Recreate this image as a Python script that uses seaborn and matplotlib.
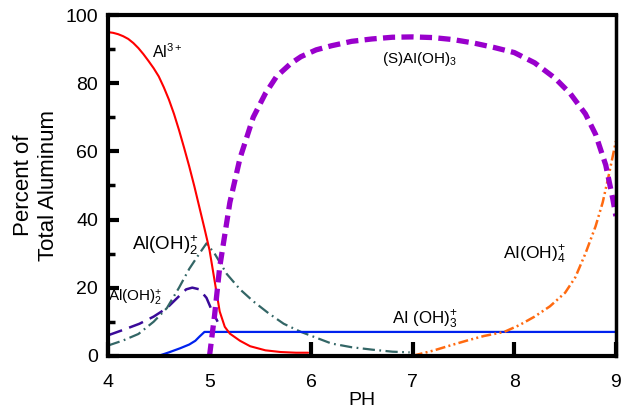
import pandas as pd
import seaborn as sns
from matplotlib import pyplot as plt
from matplotlib.ticker import MultipleLocator

sns.set_style(style='white')
plt.rcParams['font.family'] = ['Liberation Sans', 'DejaVu Sans']
plt.rcParams['mathtext.fontset'] = 'custom'
plt.rcParams['mathtext.rm'] = 'Liberation Sans'
plt.rcParams['mathtext.it'] = 'Liberation Sans'
plt.rcParams['text.color'] = 'black'
plt.rcParams['axes.labelcolor'] = 'black'
plt.rcParams['xtick.color'] = 'black'
plt.rcParams['ytick.color'] = 'black'

# Al3+
al3_ph = [4.0, 4.05, 4.1, 4.15, 4.2, 4.25, 4.3, 4.35, 4.4, 4.45, 4.5, 4.55, 4.6,
          4.65, 4.7, 4.75, 4.8, 4.85, 4.9, 4.95, 5.0, 5.05, 5.1, 5.15,
          5.2, 5.3, 5.4, 5.55, 5.7, 5.85, 5.97]
al3_pct = [95, 94.8, 94.4, 93.8, 93, 91.8, 90.3, 88.5, 86.5, 84.4, 82, 78.8, 75.2,
           71, 66.2, 61, 55.6, 49.8, 43.6, 37.4, 31, 22, 13, 8.5,
           6.5, 4.4, 2.8, 1.6, 1.1, 0.9, 0.9]

# Al(OH)3 (aq)
aloh3_ph = [4.5, 4.6, 4.71, 4.8, 4.86, 4.9, 4.95, 9.0]
aloh3_pct = [0, 1.0, 2.2, 3.3, 4.4, 5.6, 7.0, 7.0]

# (S)Al(OH)3
s_ph = [5.0, 5.05, 5.1, 5.2, 5.3, 5.43, 5.55, 5.66, 5.8, 5.9, 6.05, 6.2, 6.4, 6.6,
        6.8, 7.0, 7.2, 7.4, 7.6, 7.8, 8.0, 8.2, 8.4, 8.55, 8.7, 8.8, 8.9, 8.97, 9.0]
s_pct = [0, 12, 26, 45, 58, 70, 77, 82, 85.8, 87.8, 89.8, 91, 92.3, 93,
         93.5, 93.6, 93.4, 92.8, 91.8, 90.5, 89, 86, 81.5, 77, 71, 65, 56, 46, 41]

# Al(OH)4-
aloh4_ph = [7.0, 7.2, 7.4, 7.55, 7.7, 7.9, 8.05, 8.2, 8.35, 8.5, 8.6, 8.7, 8.8,
            8.87, 8.93, 9.0]
aloh4_pct = [0, 1.5, 3.3, 4.6, 5.8, 7.0, 9.0, 11.5, 14.5, 18.5, 23, 30, 38,
             45, 53, 63]

# Al(OH)2+ (first)
aloh2a_ph = [4.0, 4.15, 4.3, 4.45, 4.58, 4.7, 4.8, 4.9, 4.97, 5.05, 5.17, 5.3,
             5.43, 5.58, 5.73, 5.9, 6.05, 6.2, 6.4, 6.6, 6.8, 6.97]
aloh2a_pct = [3, 4.5, 6.4, 10, 14, 20, 25.5, 30, 33, 30, 24, 19.5,
              16, 12.5, 9.4, 7, 5.3, 3.6, 2.5, 1.8, 1.2, 1.0]

# Al(OH)2+ (second)
aloh2b_ph = [4.0, 4.15, 4.31, 4.45, 4.58, 4.7, 4.77, 4.83, 4.9, 4.97, 5.02, 5.08]
aloh2b_pct = [6, 7.6, 9.4, 11.5, 14, 17.5, 19.5, 20, 19.5, 17, 13.5, 10]

fig, ax = plt.subplots(figsize=(6.24, 4.08), dpi=100)
fig.subplots_adjust(left=0.173, right=0.987, bottom=0.128, top=0.963)

sns.lineplot(x=aloh2b_ph, y=aloh2b_pct, ax=ax, color='#3a0a99', lw=1.8,
             sort=False, estimator=None).lines[-1].set_dashes([6, 3])
sns.lineplot(x=aloh2a_ph, y=aloh2a_pct, ax=ax, color='#336666', lw=1.6,
             sort=False, estimator=None).lines[-1].set_dashes([5.5, 2, 0.8, 2])
sns.lineplot(x=aloh3_ph, y=aloh3_pct, ax=ax, color='#0022ee', lw=1.6,
             sort=False, estimator=None)
sns.lineplot(x=al3_ph, y=al3_pct, ax=ax, color='#ff0000', lw=1.5,
             sort=False, estimator=None)
sns.lineplot(x=aloh4_ph, y=aloh4_pct, ax=ax, color='#ff6a10', lw=1.8,
             sort=False, estimator=None).lines[-1].set_dashes([4, 1.3, 0.8, 1.3, 0.8, 1.3])
sns.lineplot(x=s_ph, y=s_pct, ax=ax, color='#9900cc', lw=3.8,
             sort=False, estimator=None).lines[-1].set_dashes([2.3, 1.2])

ax.set_xlim(4, 9)
ax.set_ylim(0, 100)
ax.set_xticks([4, 5, 6, 7, 8, 9])
ax.set_yticks([0, 20, 40, 60, 80, 100])
ax.yaxis.set_minor_locator(MultipleLocator(10))
ax.tick_params(axis='both', which='major', direction='in', length=9, width=3,
               labelsize=14, bottom=True, left=True)
ax.tick_params(axis='y', which='minor', direction='in', length=5, width=2.5,
               left=True)
ax.tick_params(axis='y', which='major', length=8, pad=7)
ax.tick_params(axis='x', length=10, pad=13)
for s in ['left', 'bottom', 'top']:
    ax.spines[s].set_linewidth(3)
    ax.spines[s].set_color('black')
ax.spines['right'].set_linewidth(2.5)
ax.spines['right'].set_color('black')
for t in ax.xaxis.get_major_ticks():
    if t.get_loc() in (4, 9):
        t.tick1line.set_visible(False)

ax.set_xlabel('PH', fontsize=14, labelpad=1)
ax.set_ylabel('Percent of\nTotal Aluminum', fontsize=16, labelpad=5, linespacing=1.25)

ax.text(4.43, 87.5, r'Al$^{3+}$', fontsize=11.5)
ax.text(7.07, 86, r'(S)AI(OH)$_3$', fontsize=11, ha='center')
ax.text(4.24, 31, r'Al(OH)$^{+}_{2}$', fontsize=13.5)
ax.text(4.0, 16, r'Al(OH)$^{+}_{2}$', fontsize=11)
ax.text(6.8, 9.5, r'AI (OH)$^{+}_{3}$', fontsize=12.2)
ax.text(7.89, 28.5, r'AI(OH)$^{+}_{4}$', fontsize=12.5)

plt.savefig('out.png', dpi=100)
